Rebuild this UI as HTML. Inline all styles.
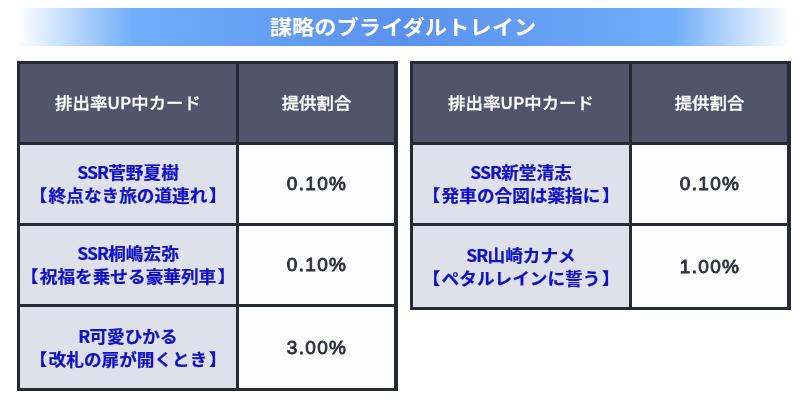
<!DOCTYPE html>
<html lang="ja">
<head>
<meta charset="utf-8">
<title>謀略のブライダルトレイン</title>
<style>
html,body{margin:0;padding:0;background:#fff;}
body{width:800px;height:404px;position:relative;overflow:hidden;
  font-family:"Noto Sans CJK JP","Liberation Sans",sans-serif;}
.banner{position:absolute;left:17px;top:7.5px;width:773px;height:38.5px;
  background:linear-gradient(to right,#ffffff 0%,#70aefa 15%,#5a91ee 50%,#70aefa 85%,#ffffff 100%);
  color:#fff;font-weight:700;font-size:22.3px;line-height:38px;text-align:center;}
.banner span{position:relative;display:inline-block;top:-0.75px;left:-0.5px;transform:scaleY(0.93);}
.tbl{position:absolute;top:61px;width:380px;background:#262a37;}
.cell{position:absolute;display:flex;align-items:center;justify-content:center;text-align:center;}
.cell>div{position:relative;}
.h{background:#51556b;color:#fff;font-weight:500;font-size:17.4px;-webkit-text-stroke:0.3px #fff;}
.h>div{top:-1.5px;left:0px;transform:scaleY(0.94);}
.n{background:#dee1ea;color:#1010c8;font-weight:700;font-size:17.65px;line-height:24px;-webkit-text-stroke:0.25px #1010c8;}
.n>div{top:-0.5px;transform:scaleY(0.94);}
.r{background:#fcfcfc;color:#2e303a;font-family:"Liberation Sans",sans-serif;font-weight:400;font-size:19px;
  -webkit-text-stroke:0.85px #2e303a;letter-spacing:1.3px;}
.r>div{top:-0.5px;left:0.5px;}
.c1{left:3px;width:216px;}
.c2{left:222px;width:155px;}
.l{letter-spacing:-0.9px;}
.bl{margin-right:1.5px;}
.br{margin-left:1.5px;}
</style>
</head>
<body>
<div class="banner"><span>謀略のブライダルトレイン</span></div>

<div class="tbl" style="left:17px;width:380.5px;height:330px;">
  <div class="cell h c1" style="top:3px;height:78px;"><div>排出率UP中カード</div></div>
  <div class="cell h c2" style="top:3px;height:78px;"><div>提供割合</div></div>
  <div class="cell n c1" style="top:84px;height:78px;"><div><span class="l">SSR</span>菅野夏樹<br><span class="bl">【</span>終点なき旅の道連れ<span class="br">】</span></div></div>
  <div class="cell r c2" style="top:84px;height:78px;"><div>0.10%</div></div>
  <div class="cell n c1" style="top:165px;height:78px;"><div><span class="l">SSR</span>桐嶋宏弥<br><span class="bl">【</span>祝福を乗せる豪華列車<span class="br">】</span></div></div>
  <div class="cell r c2" style="top:165px;height:78px;"><div>0.10%</div></div>
  <div class="cell n c1" style="top:246px;height:81px;padding-top:2px;box-sizing:border-box;"><div><span class="l">R</span>可愛ひかる<br><span class="bl">【</span>改札の扉が開くとき<span class="br">】</span></div></div>
  <div class="cell r c2" style="top:246px;height:81px;padding-top:2px;box-sizing:border-box;"><div>3.00%</div></div>
</div>

<div class="tbl" style="left:410px;width:380.5px;height:249px;">
  <div class="cell h c1" style="top:3px;height:78px;"><div>排出率UP中カード</div></div>
  <div class="cell h c2" style="top:3px;height:78px;"><div>提供割合</div></div>
  <div class="cell n c1" style="top:84px;height:78px;"><div><span class="l">SSR</span>新堂清志<br><span class="bl">【</span>発車の合図は薬指に<span class="br">】</span></div></div>
  <div class="cell r c2" style="top:84px;height:78px;"><div>0.10%</div></div>
  <div class="cell n c1" style="top:165px;height:81px;padding-top:2px;box-sizing:border-box;"><div><span class="l">SR</span>山崎カナメ<br><span class="bl">【</span>ペタルレインに誓う<span class="br">】</span></div></div>
  <div class="cell r c2" style="top:165px;height:81px;padding-top:2px;box-sizing:border-box;"><div>1.00%</div></div>
</div>
</body>
</html>
